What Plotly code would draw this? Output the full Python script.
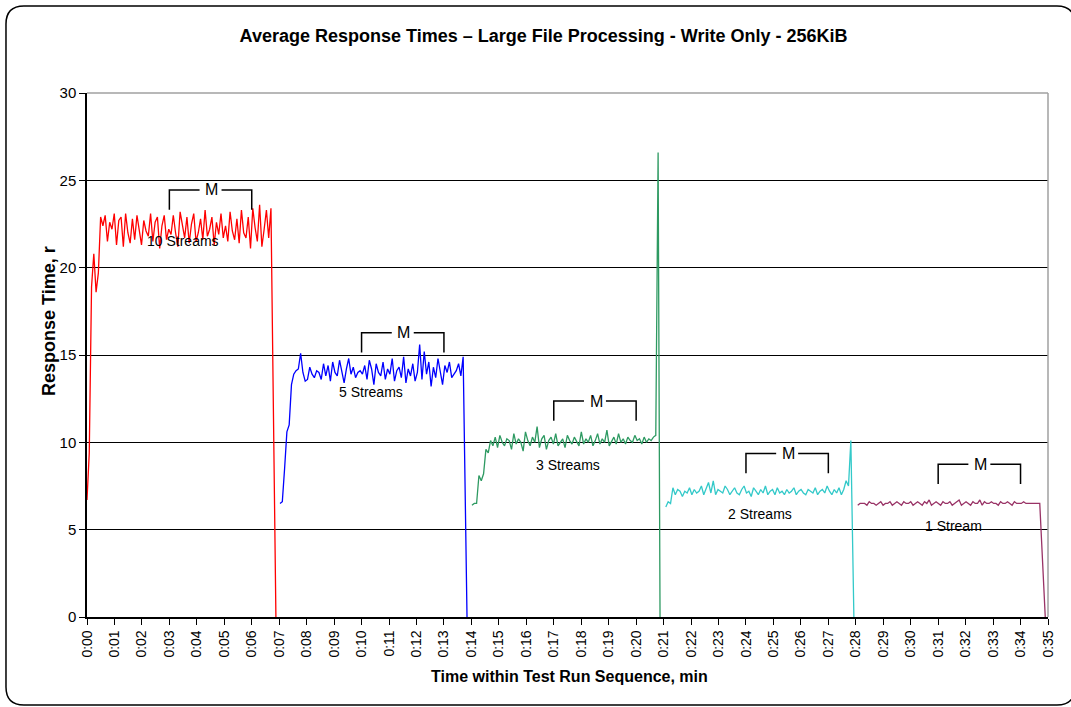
import numpy as np
import plotly.graph_objects as go

# Datos -----------------------------
series = ["10 Streams", "5 Streams", "3 Streams", "2 Streams", "1 Stream"]
colores = ["#FF0000", "#0000FF", "#2E9A62", "#33C9C9", "#993366"]

# tiempo (min) de la primera muestra, de la ultima muestra alta y de la caida a cero
inicio = [0.0, 7.03, 14.02, 21.08, 28.07]
ultimo = [6.70, 13.70, 20.80, 27.82, 34.70]
caida = [6.88, 13.84, 20.87, 27.93, 34.90]

rt_10 = [6.7, 9.4, 18.9, 20.8, 18.6, 19.7, 22.9, 22.4, 23.0, 21.5, 22.6, 22.2, 23.1, 21.3, 22.7,
         22.9, 21.2, 23.1, 22.0, 21.4, 22.8, 21.6, 23.0, 22.2, 21.3, 22.7, 22.1, 21.8, 23.1, 21.5,
         22.6, 22.9, 21.1, 22.4, 23.0, 21.6, 22.2, 21.9, 23.0, 22.0, 21.2, 23.2, 22.3, 21.7, 22.9,
         21.4, 22.5, 23.1, 21.5, 22.0, 22.8, 21.6, 23.3, 21.8, 22.2, 22.9, 21.3, 22.6, 21.9, 23.1,
         21.7, 22.4, 21.5, 23.2, 22.1, 21.6, 22.8, 21.4, 23.3, 22.0, 21.7, 22.9, 21.1, 23.4, 22.3,
         21.5, 23.6, 21.2, 22.2, 23.3, 21.7, 23.4]
rt_5 = [6.5, 6.6, 8.5, 10.6, 11.0, 13.3, 13.9, 14.1, 14.2, 15.1, 14.0, 13.5, 13.6, 14.3, 13.9,
        13.7, 14.1, 14.0, 13.6, 14.5, 13.8, 14.4, 13.5, 14.6, 14.0, 13.8, 14.7, 14.1, 13.4, 14.2,
        14.8, 13.9, 14.3, 13.7, 14.0, 14.1, 13.9, 14.4, 13.6, 14.7, 14.2, 13.3, 14.5, 14.0, 13.8,
        14.6, 13.6, 14.2, 13.9, 14.8, 13.5, 14.1, 14.3, 13.7, 14.9, 13.4, 14.2, 13.8, 14.5, 13.5,
        14.0, 15.6, 13.6, 15.2, 13.9, 14.6, 13.2, 14.3, 13.7, 14.8, 14.1, 13.3, 14.4, 14.0, 14.6,
        13.7, 13.9, 14.1, 14.5, 13.8, 14.9]
rt_3 = [6.4, 6.5, 6.5, 8.1, 7.8, 8.2, 9.6, 9.4, 10.1, 9.8, 10.3, 9.7, 10.4, 10.0, 9.8, 10.2,
        10.1, 9.6, 10.5, 9.9, 10.2, 10.0, 9.5, 10.6, 10.1, 9.8, 10.3, 10.0, 10.9, 9.7, 10.2, 10.4,
        9.6, 10.1, 10.3, 9.9, 10.5, 9.8, 10.0, 10.2, 9.7, 10.4, 10.1, 9.9, 10.3, 10.0, 9.8, 10.6,
        9.9, 10.2, 10.0, 10.4, 9.8, 10.1, 10.5, 9.9, 10.2, 10.0, 10.7, 9.8, 10.1, 10.3, 9.9, 10.5,
        10.0, 10.2, 9.9, 10.3, 10.1, 10.0, 10.4, 10.1, 10.2, 9.9, 10.3, 10.0, 10.2, 10.1, 10.3,
        10.4, 26.6]
rt_2 = [6.3, 6.6, 6.5, 7.4, 7.0, 7.3, 7.2, 6.9, 7.2, 7.1, 7.4, 7.0, 7.3, 7.1, 7.2, 7.5, 7.0,
        7.3, 7.7, 7.1, 7.8, 7.0, 7.3, 7.2, 7.1, 7.5, 7.3, 7.0, 7.2, 7.4, 7.1, 7.0, 7.3, 7.5, 7.1,
        7.2, 6.9, 7.4, 7.2, 7.0, 7.3, 7.1, 7.5, 7.0, 7.2, 7.3, 7.0, 7.4, 7.1, 7.2, 7.0, 7.3, 7.1,
        7.2, 7.4, 7.0, 7.2, 7.3, 7.1, 7.0, 7.3, 7.2, 7.1, 7.4, 7.0, 7.2, 7.3, 7.1, 7.5, 7.2, 7.0,
        7.3, 7.1, 7.4, 7.0, 7.3, 7.8, 7.5, 10.1]
rt_1 = [6.4, 6.5, 6.5, 6.5, 6.4, 6.6, 6.5, 6.5, 6.4, 6.5, 6.6, 6.4, 6.5, 6.5, 6.6, 6.4, 6.5,
        6.6, 6.5, 6.4, 6.6, 6.5, 6.5, 6.6, 6.4, 6.5, 6.6, 6.5, 6.4, 6.6, 6.5, 6.7, 6.4, 6.5, 6.6,
        6.5, 6.4, 6.6, 6.5, 6.5, 6.6, 6.4, 6.5, 6.6, 6.7, 6.4, 6.5, 6.6, 6.5, 6.4, 6.6, 6.5, 6.5,
        6.7, 6.4, 6.6, 6.5, 6.5, 6.6, 6.5, 6.5, 6.4, 6.6, 6.5, 6.5, 6.6, 6.5, 6.4, 6.6, 6.5, 6.5,
        6.5, 6.6, 6.5, 6.5, 6.5, 6.5, 6.5, 6.5, 6.5]
valores = [rt_10, rt_5, rt_3, rt_2, rt_1]

# etiquetas de cada serie (posicion en minutos y ms)
etiqueta_x = [3.5, 10.35, 17.5, 24.5, 31.55]
etiqueta_y = [21.5, 12.9, 8.7, 5.9, 5.2]

# corchetes "M" de la zona de medida
m_ini = [3, 10, 17, 24, 31]
m_fin = [6, 13, 20, 27, 34]
m_alto = [24.45, 16.27, 12.36, 9.36, 8.74]

minutos = list(range(0, 36))
etiquetas_tiempo = ["0:%02d" % m for m in minutos]

fuente = "Liberation Sans, Arial, sans-serif"

fig = go.Figure()

for nombre, color, vals, t0, t1, tc in zip(series, colores, valores, inicio, ultimo, caida):
    # muestras equiespaciadas en el tramo y caida final a cero
    x = list(np.linspace(t0, t1, len(vals))) + [tc]
    y = vals + [0]
    fig.add_trace(go.Scatter(x=x, y=y, mode="lines", name=nombre,
                             line=dict(color=color, width=1.3), showlegend=False))

anotaciones = []
formas = []
for nombre, ex, ey in zip(series, etiqueta_x, etiqueta_y):
    anotaciones.append(dict(x=ex, y=ey, text=nombre, showarrow=False,
                            font=dict(size=14, color="black", family=fuente)))

for a, b, h in zip(m_ini, m_fin, m_alto):
    medio = (a + b) / 2
    bajo = h - 1.13
    camino = "M %s,%s L %s,%s L %s,%s M %s,%s L %s,%s L %s,%s" % (
        a, bajo, a, h, medio - 0.4, h, medio + 0.4, h, b, h, b, bajo)
    formas.append(dict(type="path", path=camino, xref="x", yref="y",
                       line=dict(color="black", width=1.5)))
    anotaciones.append(dict(x=medio + 0.04, y=h, text="M", showarrow=False,
                            font=dict(size=16, color="black", family=fuente)))

# borde superior y derecho gris del area del grafico
formas.append(dict(type="line", xref="paper", yref="paper", x0=0, x1=1, y0=1, y1=1,
                   line=dict(color="#A0A0A0", width=1.5), layer="above"))
formas.append(dict(type="line", xref="paper", yref="paper", x0=1, x1=1, y0=0, y1=1,
                   line=dict(color="#A0A0A0", width=1.5), layer="above"))

# marco redondeado de todo el grafico
izq, der, arr, aba = -0.0843, 1.028, 1.166, -0.168
rx, ry = 0.0187, 0.0344
marco = ("M %f,%f L %f,%f Q %f,%f %f,%f L %f,%f Q %f,%f %f,%f L %f,%f Q %f,%f %f,%f "
         "L %f,%f Q %f,%f %f,%f Z") % (
    izq + rx, arr, der - rx, arr, der, arr, der, arr - ry,
    der, aba + ry, der, aba, der - rx, aba,
    izq + rx, aba, izq, aba, izq, aba + ry,
    izq, arr - ry, izq, arr, izq + rx, arr)
formas.append(dict(type="path", path=marco, xref="paper", yref="paper",
                   line=dict(color="black", width=1.5)))

# titulos de ejes
anotaciones.append(dict(x=0.5016, y=-0.113, xref="paper", yref="paper", yanchor="middle",
                        text="<b>Time within Test Run Sequence, min</b>", showarrow=False,
                        font=dict(size=16, color="black", family=fuente)))
anotaciones.append(dict(x=-0.052, y=0.565, xref="paper", yref="paper", textangle=-90,
                        text="<b>Response Time, r</b>", showarrow=False,
                        font=dict(size=18, color="black", family=fuente)))

fig.update_layout(
    width=1071, height=707,
    margin=dict(l=87, r=23, t=93, b=90),
    paper_bgcolor="white", plot_bgcolor="white",
    font=dict(family=fuente, color="black", size=14),
    title=dict(text="<b>Average Response Times \u2013 Large File Processing - Write Only - 256KiB</b>",
               x=0.5075, xanchor="center", y=0.949, yanchor="middle",
               font=dict(size=18, family=fuente, color="black")),
    xaxis=dict(range=[0, 35], tickvals=minutos, ticktext=etiquetas_tiempo, tickangle=-90,
               ticks="outside", ticklen=6, tickcolor="black", showgrid=False,
               showline=True, linecolor="black", linewidth=1.5, zeroline=False,
               tickfont=dict(size=14)),
    yaxis=dict(range=[0, 30], dtick=5, ticks="outside", ticklen=6, tickcolor="black",
               showgrid=True, gridcolor="black", gridwidth=1,
               showline=True, linecolor="black", linewidth=1.5, zeroline=False,
               tickfont=dict(size=15)),
    annotations=anotaciones,
    shapes=formas,
)

# quitar el margen por defecto de la pagina y la barra de herramientas
fig.write_html("out.html", config={"displayModeBar": False},
               post_script="document.body.style.margin='0';")
